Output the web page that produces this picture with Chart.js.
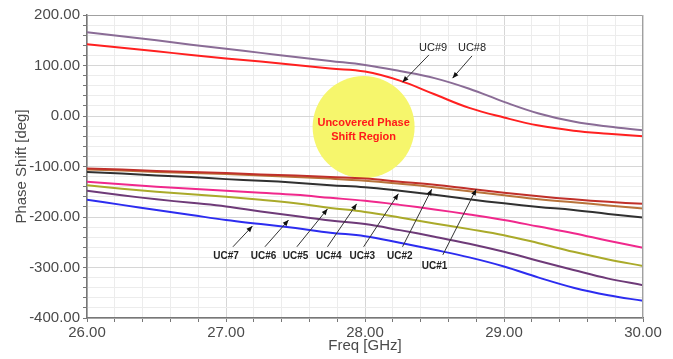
<!DOCTYPE html>
<html>
<head>
<meta charset="utf-8">
<script src="https://cdn.jsdelivr.net/npm/chart.js@4/dist/chart.umd.min.js"></script>
<style>
  html, body { margin: 0; padding: 0; background: #fff; }
  #wrap { width: 673px; height: 359px; }
</style>
</head>
<body>
<div id="wrap"><canvas id="phase" width="673" height="359"></canvas></div>
<script>
// frequency points (GHz)
const freqGHz = [26, 26.25, 26.5, 26.75, 27, 27.25, 27.5, 27.75, 28, 28.25, 28.5, 28.75, 29, 29.25, 29.5, 29.75, 30];

// phase shift [deg] per unit cell
const uc1 = [-104, -106, -109, -111, -113, -116, -118, -121, -124, -130, -136, -144, -152, -159, -165, -170, -174];
const uc2 = [-106, -108, -111, -113, -115, -118, -121, -124, -128, -134, -141, -149, -157, -165, -171, -177, -183];
const uc3 = [-111, -114, -118, -121, -125, -128, -132, -137, -141, -148, -156, -165, -173, -180, -186, -194, -201];
const uc4 = [-130, -135, -140, -144, -148, -152, -156, -162, -168, -176, -185, -195, -206, -219, -232, -247, -261];
const uc5 = [-137, -144, -150, -155, -160, -166, -173, -182, -190, -201, -213, -224, -236, -252, -269, -284, -297];
const uc6 = [-148, -157, -165, -172, -179, -189, -198, -207, -214, -226, -239, -253, -269, -287, -305, -322, -335];
const uc7 = [-166, -176, -186, -196, -206, -214, -222, -231, -238, -251, -265, -280, -298, -320, -340, -355, -366];
const uc8 = [166, 158, 150, 141, 133, 125, 117, 109, 101, 89, 75, 54, 28, 5, -11, -21, -28];
const uc9 = [142, 135, 128, 121, 114, 108, 101, 94, 88, 70, 43, 16, -3, -19, -29, -35, -40];

const seriesNames = ['UC#1', 'UC#2', 'UC#3', 'UC#4', 'UC#5', 'UC#6', 'UC#7', 'UC#8', 'UC#9'];
const seriesData = [uc1, uc2, uc3, uc4, uc5, uc6, uc7, uc8, uc9];
const seriesColors = ['#c0302a', '#b8733a', '#303030', '#f0288c', '#aaaa2a', '#6e3a78', '#2c2cf0', '#8a6c96', '#ff2020'];

// callouts: label position, arrow tail, arrow tip (freq, deg)
const callouts = [
  { text: 'UC#1', at: [28.50, -297], from: [28.56, -275], to: [28.80, -145], bold: true },
  { text: 'UC#2', at: [28.25, -277], from: [28.27, -259], to: [28.48, -145], bold: true },
  { text: 'UC#3', at: [27.98, -277], from: [27.99, -259], to: [28.24, -154], bold: true },
  { text: 'UC#4', at: [27.74, -277], from: [27.73, -259], to: [27.94, -174], bold: true },
  { text: 'UC#5', at: [27.50, -277], from: [27.51, -259], to: [27.73, -184], bold: true },
  { text: 'UC#6', at: [27.27, -277], from: [27.28, -259], to: [27.45, -206], bold: true },
  { text: 'UC#7', at: [27.00, -277], from: [27.05, -259], to: [27.19, -218], bold: true },
  { text: 'UC#8', at: [28.77, 135], from: [28.77, 119], to: [28.63, 75], bold: false },
  { text: 'UC#9', at: [28.49, 135], from: [28.46, 121], to: [28.27, 67], bold: false }
];
const regionCenter = [27.99, -22];

const isWhole = v => Math.abs(v - Math.round(v)) < 1e-6;
const isHundred = v => Math.abs(v / 100 - Math.round(v / 100)) < 1e-6;

const annotate = {
  id: 'annotate',
  beforeDatasetsDraw(chart) {
    const { ctx, scales: { x, y } } = chart;
    const cx = x.getPixelForValue(regionCenter[0]);
    const cy = y.getPixelForValue(regionCenter[1]);
    ctx.save();
    ctx.fillStyle = '#f6f66c';
    ctx.beginPath();
    ctx.arc(cx, cy, 51, 0, Math.PI * 2);
    ctx.fill();
    ctx.fillStyle = '#ff1a1a';
    ctx.font = 'bold 11px "Liberation Sans"';
    ctx.textAlign = 'center';
    ctx.textBaseline = 'middle';
    ctx.fillText('Uncovered Phase', cx, cy - 4);
    ctx.fillText('Shift Region', cx, cy + 10);
    ctx.restore();
  },
  afterDatasetsDraw(chart) {
    const { ctx, scales: { x, y }, chartArea } = chart;
    ctx.save();
    // top/right frame
    ctx.strokeStyle = '#a0a0a0';
    ctx.lineWidth = 1;
    ctx.beginPath();
    ctx.moveTo(chartArea.left, chartArea.top + 0.5);
    ctx.lineTo(chartArea.right - 0.5, chartArea.top + 0.5);
    ctx.lineTo(chartArea.right - 0.5, chartArea.bottom);
    ctx.stroke();

    callouts.forEach(c => {
      const x1 = x.getPixelForValue(c.from[0]), y1 = y.getPixelForValue(c.from[1]);
      const x2 = x.getPixelForValue(c.to[0]), y2 = y.getPixelForValue(c.to[1]);
      ctx.strokeStyle = '#333';
      ctx.fillStyle = '#111';
      ctx.lineWidth = 1;
      ctx.beginPath();
      ctx.moveTo(x1, y1);
      ctx.lineTo(x2, y2);
      ctx.stroke();
      const a = Math.atan2(y2 - y1, x2 - x1);
      ctx.beginPath();
      ctx.moveTo(x2, y2);
      ctx.lineTo(x2 - 6 * Math.cos(a) + 2.5 * Math.sin(a), y2 - 6 * Math.sin(a) - 2.5 * Math.cos(a));
      ctx.lineTo(x2 - 6 * Math.cos(a) - 2.5 * Math.sin(a), y2 - 6 * Math.sin(a) + 2.5 * Math.cos(a));
      ctx.closePath();
      ctx.fill();
      ctx.fillStyle = '#222';
      ctx.font = (c.bold ? 'bold 10px' : '11px') + ' "Liberation Sans"';
      ctx.textAlign = 'center';
      ctx.textBaseline = 'middle';
      ctx.fillText(c.text, x.getPixelForValue(c.at[0]), y.getPixelForValue(c.at[1]));
    });
    ctx.restore();
  }
};

const datasets = seriesData.map((vals, i) => ({
  label: seriesNames[i],
  data: vals.map((v, j) => ({ x: freqGHz[j], y: v })),
  borderColor: seriesColors[i],
  borderWidth: 2,
  pointRadius: 0,
  tension: 0.4,
  fill: false
}));

const tickFont = { family: 'Liberation Sans', size: 15 };

new Chart('phase', {
  type: 'line',
  data: { datasets: datasets },
  options: {
    responsive: false,
    animation: false,
    layout: { padding: { top: 15, right: 30, left: 0, bottom: 0 } },
    plugins: { legend: { display: false }, tooltip: { enabled: false } },
    scales: {
      x: {
        type: 'linear',
        min: 26,
        max: 30,
        afterFit: s => { s.height = 41; },
        ticks: {
          stepSize: 0.2,
          autoSkip: false,
          maxRotation: 0,
          padding: 2,
          color: '#4a4a4a',
          font: tickFont,
          callback: v => isWhole(v) ? v.toFixed(2) : ''
        },
        grid: {
          color: c => isWhole(c.tick.value) ? '#d6d6d6' : '#ececec',
          tickColor: '#777',
          tickLength: 4
        },
        border: { color: '#777', width: 1.5 },
        title: {
          display: true,
          text: 'Freq [GHz]',
          color: '#4a4a4a',
          font: { family: 'Liberation Sans', size: 15 },
          padding: { top: 0, bottom: 4 }
        }
      },
      y: {
        min: -400,
        max: 200,
        afterFit: s => { s.width = 87; },
        ticks: {
          stepSize: 20,
          autoSkip: false,
          padding: 3,
          color: '#4a4a4a',
          font: tickFont,
          callback: v => isHundred(v) ? v.toFixed(2) : ''
        },
        grid: {
          color: c => isHundred(c.tick.value) ? '#d6d6d6' : '#ececec',
          tickColor: '#777',
          tickLength: 4
        },
        border: { color: '#777', width: 1.5 },
        title: {
          display: true,
          text: 'Phase Shift [deg]',
          color: '#4a4a4a',
          font: { family: 'Liberation Sans', size: 15 },
          padding: { top: 13, bottom: 0 }
        }
      }
    }
  },
  plugins: [annotate]
});
</script>
</body>
</html>
